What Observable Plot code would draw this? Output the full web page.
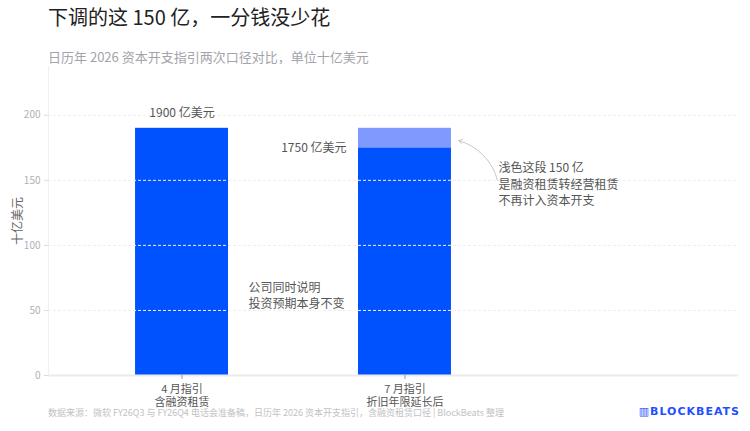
<!DOCTYPE html>
<html><head><meta charset="utf-8">
<script src="https://cdn.jsdelivr.net/npm/d3@7"></script>
<script src="https://cdn.jsdelivr.net/npm/@observablehq/plot@0.6"></script>
<style>
body{margin:0;background:#fff;font-family:"Noto Sans CJK SC","Noto Sans",sans-serif;}
#wrap{position:relative;width:750px;height:431px;overflow:hidden;}
#title{position:absolute;left:48px;top:5px;font-size:20px;line-height:24px;color:#222;white-space:nowrap;}
#subtitle{position:absolute;left:48px;top:49px;font-size:13px;line-height:16px;color:#a3a3ab;white-space:nowrap;}
#chart{position:absolute;left:0;top:60px;}
#footer{position:absolute;left:48px;top:407px;font-size:9px;line-height:12px;color:#c2c2c2;white-space:nowrap;}
#logo{position:absolute;right:10px;top:405px;font-size:11px;line-height:14px;font-weight:bold;color:#1f4fff;letter-spacing:1px;font-family:"DejaVu Sans",sans-serif;}
</style></head>
<body>
<div id="wrap">
  <div id="title">下调的这 150 亿，一分钱没少花</div>
  <div id="subtitle">日历年 2026 资本开支指引两次口径对比，单位十亿美元</div>
  <div id="chart"></div>
  <div id="footer">数据来源：微软 FY26Q3 与 FY26Q4 电话会准备稿，日历年 2026 资本开支指引，含融资租赁口径 | BlockBeats 整理</div>
  <div id="logo">▥BLOCKBEATS</div>
</div>
<script>
// ---- data ----
const categories = ["4 月指引\n含融资租赁", "7 月指引\n折旧年限延长后"];
const baseValues = [190, 175];       // dark segment (billion USD)
const shiftedValues = [0, 15];       // light segment: finance lease -> operating lease
const barLabels = ["1900 亿美元", "1750 亿美元"];
const yTicks = [0, 50, 100, 150, 200];
const noteShift = "浅色这段 150 亿\n是融资租赁转经营租赁\n不再计入资本开支";
const noteSame = "公司同时说明\n投资预期本身不变";

const halfWidth = 0.2085;
const xDomain = [-0.599, 2.496];
const dark = "#0052ff", light = "#7f99ff";

const segments = [];
categories.forEach((c, i) => {
  segments.push({i, y1: 0, y2: baseValues[i], fill: dark});
  if (shiftedValues[i] > 0) segments.push({i, y1: baseValues[i], y2: baseValues[i] + shiftedValues[i], fill: light});
});

const font = '"Noto Sans CJK SC","Noto Sans",sans-serif';
const chart = Plot.plot({
  width: 750, height: 345,
  marginLeft: 48, marginRight: 12, marginTop: 6, marginBottom: 30,
  style: {fontFamily: font, fontSize: "11px", background: "transparent", overflow: "visible"},
  x: {domain: xDomain},
  y: {domain: [0, 237.5]},
  marks: [
    Plot.ruleX([xDomain[0]], {stroke: "#f0f0f0"}),
    Plot.rectY(segments, {x1: d => d.i - halfWidth, x2: d => d.i + halfWidth, y1: "y1", y2: "y2", fill: "fill"}),
    Plot.gridY(yTicks.slice(1), {stroke: "#eeeeee", strokeOpacity: 1, strokeDasharray: "3,2"}),
    Plot.ruleY([0], {stroke: "#ebebeb", strokeWidth: 2}),
    Plot.axisY(yTicks, {tickSize: 4, tickPadding: 4, stroke: "#dcdcdc", fill: "#b0b0b8", fontSize: 10, label: null}),
    Plot.axisY({ticks: [], label: "十亿美元", labelAnchor: "center", labelOffset: 35, labelArrow: false, fill: "#666", fontSize: 12}),
    Plot.axisX([0, 1], {tickFormat: i => categories[i], tickSize: 4, tickPadding: 4, stroke: "#999", fill: "#555", fontSize: 11, lineHeight: 1.22, label: null}),
    Plot.text([0], {x: i => i, y: i => baseValues[i] + shiftedValues[i], text: i => barLabels[i], dy: -15, fill: "#555", fontSize: 12}),
    Plot.text([1], {x: i => i - halfWidth, y: i => baseValues[i], text: i => barLabels[i], dx: -12, textAnchor: "end", fill: "#555", fontSize: 12}),
    Plot.text([noteShift], {x: 1.419, y: 147.6, text: d => d, textAnchor: "start", lineHeight: 1.38, fill: "#555", fontSize: 12}),
    Plot.text([noteSame], {x: 0.298, y: 62, text: d => d, textAnchor: "start", lineHeight: 1.35, fill: "#555", fontSize: 12}),
    Plot.arrow([0], {x1: 1.415, y1: 150, x2: 1.24, y2: 180.6, bend: -30, stroke: "#c8c8c8", strokeWidth: 1, headLength: 6})
  ]
});
document.getElementById("chart").appendChild(chart);
</script>
</body></html>
